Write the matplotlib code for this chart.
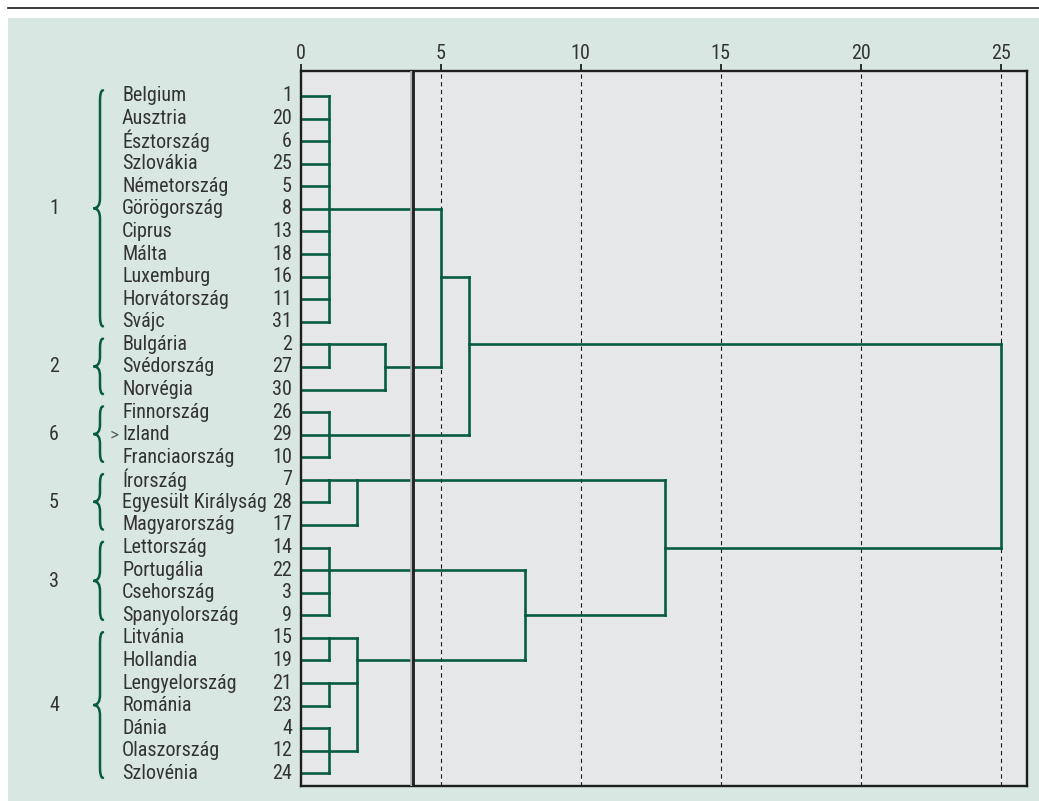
import matplotlib.pyplot as plt
from matplotlib import transforms, font_manager
from matplotlib.lines import Line2D
from matplotlib.patches import Rectangle, PathPatch
from matplotlib.path import Path

# Prefer a narrow sans face for the labels if one is installed
installed = {(f.name, f.stretch) for f in font_manager.fontManager.ttflist}
installed_names = {n for n, _ in installed}
font_stretch = "normal"
if "Liberation Sans Narrow" in installed_names:
    font_family = "Liberation Sans Narrow"
elif "Roboto Condensed" in installed_names:
    font_family = "Roboto Condensed"
elif ("DejaVu Sans", "condensed") in installed or ("DejaVu Sans", "semi-condensed") in installed:
    font_family, font_stretch = "DejaVu Sans", "condensed"
else:
    font_family = "Liberation Sans"
plt.rcParams["font.family"] = [font_family, "DejaVu Sans"]
plt.rcParams["font.stretch"] = font_stretch

# Countries in dendrogram order, with their case numbers
countries = [
    "Belgium", "Ausztria", "Észtország", "Szlovákia", "Németország",
    "Görögország", "Ciprus", "Málta", "Luxemburg", "Horvátország", "Svájc",
    "Bulgária", "Svédország", "Norvégia",
    "Finnország", "Izland", "Franciaország",
    "Írország", "Egyesült Királyság", "Magyarország",
    "Lettország", "Portugália", "Csehország", "Spanyolország",
    "Litvánia", "Hollandia", "Lengyelország", "Románia", "Dánia",
    "Olaszország", "Szlovénia",
]
case_ids = [1, 20, 6, 25, 5, 8, 13, 18, 16, 11, 31, 2, 27, 30, 26, 29, 10,
            7, 28, 17, 14, 22, 3, 9, 15, 19, 21, 23, 4, 12, 24]

# Cluster groups: label, first row, last row
group_names = ["1", "2", "6", "5", "3", "4"]
group_first = [0, 11, 14, 17, 20, 24]
group_last = [10, 13, 16, 19, 23, 30]

# Merges: child node ids (leaves are 0..30, merges numbered from 31),
# rescaled distance of the merge, row where the merged node continues
merge_children = [
    list(range(0, 11)), [11, 12], [32, 13], [31, 33], [14, 15, 16],
    [34, 35], [17, 18], [37, 19], [20, 21, 22, 23], [24, 25], [26, 27],
    [28, 29, 30], [40, 41, 42], [39, 43], [38, 44], [36, 45],
]
merge_height = [1, 1, 3, 5, 1, 6, 1, 2, 1, 1, 1, 1, 2, 8, 13, 25]
merge_row = [5, 11, 12, 8, 15, 11, 17, 17, 21, 24, 26, 29, 25, 23, 20, 15]

cut_level = 4
dist_ticks = [0, 5, 10, 15, 20, 25]

green = "#075c40"
text_col = "#333333"
W, H = 1039, 801

fig = plt.figure(figsize=(W / 100, H / 100), dpi=100)
fig.patch.set_facecolor("white")

# Pick a label size so the longest name fits between the name and number columns
probe = fig.text(0, 0, "Egyesült Királyság", fontsize=15)
probe_w = probe.get_window_extent(fig.canvas.get_renderer()).width
probe.remove()
fs = min(15, 15 * 145 / probe_w)

fig.add_artist(Rectangle((8 / W, 0), 1 - 8 / W, (H - 18) / H,
                         transform=fig.transFigure, facecolor="#d9e7e2",
                         edgecolor="none", zorder=0))
fig.add_artist(Line2D([8 / W, 1], [1 - 8 / H, 1 - 8 / H],
                      transform=fig.transFigure, color="#1a1a1a", lw=1.2))

ax = fig.add_axes([300.7 / W, 15 / H, (1027.5 - 300.7) / W, (786 - 71) / H])
ax.set_facecolor("#e6e7e9")
ax.set_xlim(0, 25.96)
ax.set_ylim(30.56, -1.107)
for s in ax.spines.values():
    s.set_linewidth(1.7)
    s.set_color("#1e1e1e")

ax.xaxis.tick_top()
ax.set_xticks(dist_ticks)
ax.tick_params(axis="x", direction="out", length=5, width=1.3, pad=1,
               labelsize=fs, labelcolor=text_col, color="#1e1e1e")
ax.set_yticks([])

# Reference lines at the tick distances
for t in dist_ticks[1:]:
    ax.axvline(t, color="white", lw=0.8, zorder=1)
    ax.axvline(t, color="#1e1e1e", lw=0.8, dashes=(4, 3), zorder=1.1)

# Dendrogram
node_x = [0.0] * len(countries)
node_y = list(range(len(countries)))
for children, h, r in zip(merge_children, merge_height, merge_row):
    ys = []
    for c in children:
        ax.plot([node_x[c], h], [node_y[c], node_y[c]], color=green, lw=1.9,
                solid_capstyle="projecting", zorder=2)
        ys.append(node_y[c])
    ax.plot([h, h], [min(ys), max(ys)], color=green, lw=1.9,
            solid_capstyle="projecting", zorder=2)
    node_x.append(h)
    node_y.append(r)

# Cut line
ax.axvline(cut_level - 0.02, color="#b0b0b0", lw=2.6, zorder=3)
ax.axvline(cut_level + 0.01, color="#1e1e1e", lw=2.0, zorder=3.1)

# Row labels on the left
lab = transforms.blended_transform_factory(fig.transFigure, ax.transData)
for i, (name, cid) in enumerate(zip(countries, case_ids)):
    ax.text(122 / W, i, name, transform=lab, ha="left", va="center",
            fontsize=fs, color=text_col)
    ax.text(292 / W, i, str(cid), transform=lab, ha="right", va="center",
            fontsize=fs, color=text_col)

# Marker before Izland
iz = countries.index("Izland")
ax.plot([112 / W, 118 / W, 112 / W], [iz - 0.13, iz, iz + 0.13],
        transform=lab, color="#555555", lw=0.9, clip_on=False)

# Group braces and numbers
x_end, x_mid, x_tip = 103 / W, 100 / W, 93.5 / W
for g, a, b in zip(group_names, group_first, group_last):
    top, bot = a - 0.25, b + 0.2
    mid = (top + bot) / 2
    d = min(0.45, (bot - top) / 6)
    verts = [
        (x_end, top), (x_mid, top), (x_mid, top + d),
        (x_mid, mid - d), (x_mid, mid), (x_tip, mid),
        (x_mid, mid), (x_mid, mid + d),
        (x_mid, bot - d), (x_mid, bot), (x_end, bot),
    ]
    codes = [Path.MOVETO, Path.CURVE3, Path.CURVE3, Path.LINETO,
             Path.CURVE3, Path.CURVE3, Path.CURVE3, Path.CURVE3,
             Path.LINETO, Path.CURVE3, Path.CURVE3]
    ax.add_patch(PathPatch(Path(verts, codes), transform=lab, fill=False,
                           edgecolor=green, lw=1.8, clip_on=False,
                           capstyle="round"))
    ax.text(54 / W, (a + b) / 2, g, transform=lab, ha="center", va="center",
            fontsize=fs, color=text_col)

fig.savefig("out.png", dpi=100)
